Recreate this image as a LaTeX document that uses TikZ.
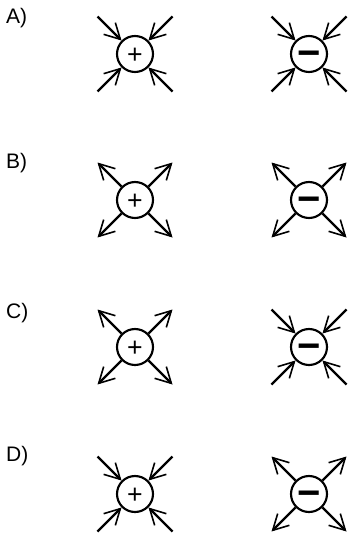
\documentclass[tikz,border=0pt]{standalone}
\usepackage{fontspec}
\setmainfont{Liberation Sans}
\usetikzlibrary{arrows.meta}

\tikzset{every picture/.style={line width=1.8pt}}
\tikzset{
  charge/.style={circle, draw, line width=1.6pt, minimum size=27pt, inner sep=0pt},
  possign/.style={charge, font=\fontsize{20}{20}\selectfont, text height=14pt, text depth=0pt},
  negsign/.style={charge, font=\bfseries\fontsize{30}{30}\selectfont, text height=18.6pt, text depth=0pt},
  fieldline/.style={line width=1.8pt, -{Straight Barb[length=11.5pt, width=12.4pt, line width=1.2pt]}},
  caselabel/.style={anchor=base west, inner sep=0pt, font=\fontsize{15.75}{18}\selectfont}
}

\begin{document}
\begin{tikzpicture}[x=0.75pt,y=0.75pt,yscale=-1,xscale=1]
	\useasboundingbox (0,0) rectangle (348,539);

	% Text Node
	\node[caselabel] (labA) at (5,23) {A)};
	% Text Node
	\node[caselabel] (labB) at (5,168) {B)};
	% Text Node
	\node[caselabel] (labC) at (5,318) {C)};
	% Text Node
	\node[caselabel] (labD) at (5,461) {D)};

	%Charges
	\node[possign] (pA) at (135,54) {+};
	\node[negsign] (mA) at (309,54) {−};
	\node[possign] (pB) at (135,200) {+};
	\node[negsign] (mB) at (309,200) {−};
	\node[possign] (pC) at (135,347) {+};
	\node[negsign] (mC) at (309,347) {−};
	\node[possign] (pD) at (135,494) {+};
	\node[negsign] (mD) at (309,494) {−};

	%Corner points of the field lines
	\path (pA) ++(-37.5,-37.5) coordinate (pA1) (pA) ++(37.5,-37.5) coordinate (pA2) (pA) ++(-37.5,37.5) coordinate (pA3) (pA) ++(37.5,37.5) coordinate (pA4);
	\path (mA) ++(-37.5,-37.5) coordinate (mA1) (mA) ++(37.5,-37.5) coordinate (mA2) (mA) ++(-37.5,37.5) coordinate (mA3) (mA) ++(37.5,37.5) coordinate (mA4);
	\path (pB) ++(-37.5,-37.5) coordinate (pB1) (pB) ++(37.5,-37.5) coordinate (pB2) (pB) ++(-37.5,37.5) coordinate (pB3) (pB) ++(37.5,37.5) coordinate (pB4);
	\path (mB) ++(-37.5,-37.5) coordinate (mB1) (mB) ++(37.5,-37.5) coordinate (mB2) (mB) ++(-37.5,37.5) coordinate (mB3) (mB) ++(37.5,37.5) coordinate (mB4);
	\path (pC) ++(-37.5,-37.5) coordinate (pC1) (pC) ++(37.5,-37.5) coordinate (pC2) (pC) ++(-37.5,37.5) coordinate (pC3) (pC) ++(37.5,37.5) coordinate (pC4);
	\path (mC) ++(-37.5,-37.5) coordinate (mC1) (mC) ++(37.5,-37.5) coordinate (mC2) (mC) ++(-37.5,37.5) coordinate (mC3) (mC) ++(37.5,37.5) coordinate (mC4);
	\path (pD) ++(-37.5,-37.5) coordinate (pD1) (pD) ++(37.5,-37.5) coordinate (pD2) (pD) ++(-37.5,37.5) coordinate (pD3) (pD) ++(37.5,37.5) coordinate (pD4);
	\path (mD) ++(-37.5,-37.5) coordinate (mD1) (mD) ++(37.5,-37.5) coordinate (mD2) (mD) ++(-37.5,37.5) coordinate (mD3) (mD) ++(37.5,37.5) coordinate (mD4);

	%A) all lines inward
	\draw[fieldline] (pA1) -- (pA);
	\draw[fieldline] (pA2) -- (pA);
	\draw[fieldline] (pA3) -- (pA);
	\draw[fieldline] (pA4) -- (pA);
	\draw[fieldline] (mA1) -- (mA);
	\draw[fieldline] (mA2) -- (mA);
	\draw[fieldline] (mA3) -- (mA);
	\draw[fieldline] (mA4) -- (mA);

	%B) all lines outward
	\draw[fieldline] (pB) -- (pB1);
	\draw[fieldline] (pB) -- (pB2);
	\draw[fieldline] (pB) -- (pB3);
	\draw[fieldline] (pB) -- (pB4);
	\draw[fieldline] (mB) -- (mB1);
	\draw[fieldline] (mB) -- (mB2);
	\draw[fieldline] (mB) -- (mB3);
	\draw[fieldline] (mB) -- (mB4);

	%C) outward on +, inward on -
	\draw[fieldline] (pC) -- (pC1);
	\draw[fieldline] (pC) -- (pC2);
	\draw[fieldline] (pC) -- (pC3);
	\draw[fieldline] (pC) -- (pC4);
	\draw[fieldline] (mC1) -- (mC);
	\draw[fieldline] (mC2) -- (mC);
	\draw[fieldline] (mC3) -- (mC);
	\draw[fieldline] (mC4) -- (mC);

	%D) inward on +, outward on -
	\draw[fieldline] (pD1) -- (pD);
	\draw[fieldline] (pD2) -- (pD);
	\draw[fieldline] (pD3) -- (pD);
	\draw[fieldline] (pD4) -- (pD);
	\draw[fieldline] (mD) -- (mD1);
	\draw[fieldline] (mD) -- (mD2);
	\draw[fieldline] (mD) -- (mD3);
	\draw[fieldline] (mD) -- (mD4);

\end{tikzpicture}
\end{document}
